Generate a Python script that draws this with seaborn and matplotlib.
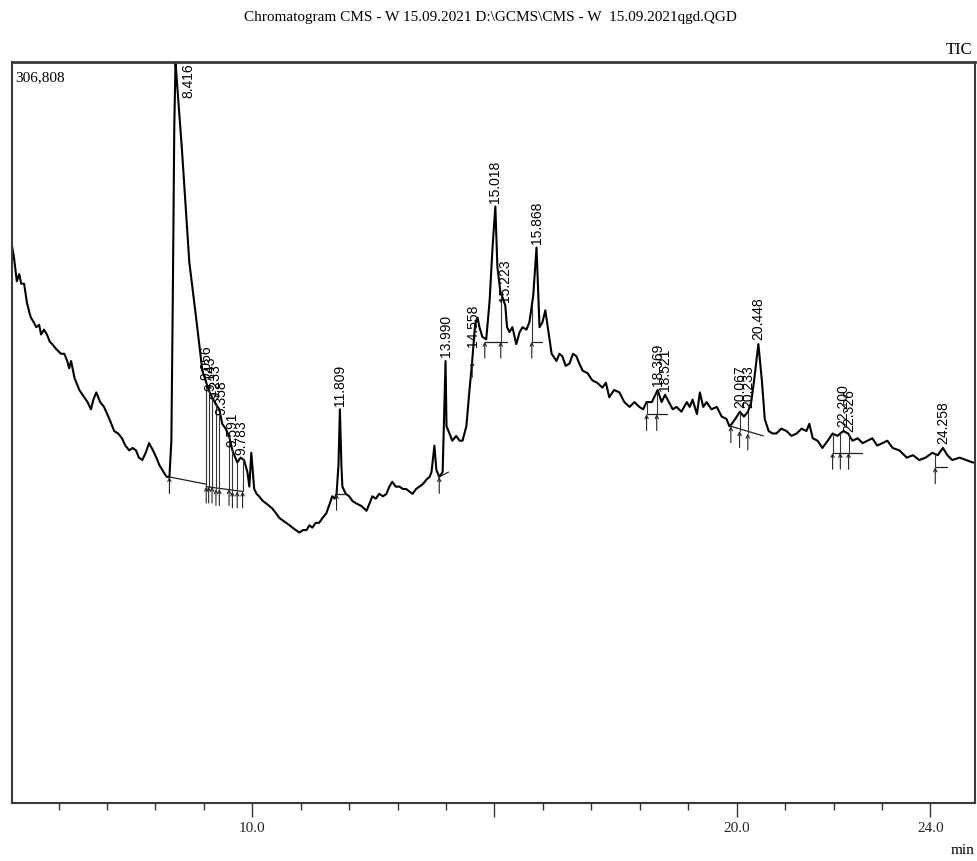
import numpy as np
import pandas as pd
import matplotlib
matplotlib.use("Agg")
import matplotlib.pyplot as plt
import seaborn as sns

# ---------------- data ----------------
rt_min = [
    5.02, 5.08, 5.14, 5.19, 5.23, 5.29, 5.35, 5.40, 5.43, 5.49, 5.54, 5.60, 5.64, 5.70, 5.76, 5.82,
    5.87, 5.95, 6.05, 6.12, 6.18, 6.22, 6.26, 6.33, 6.43, 6.53, 6.60, 6.67, 6.72, 6.78, 6.86, 6.94,
    7.05, 7.15, 7.23, 7.31, 7.38, 7.46, 7.53, 7.60, 7.66, 7.73, 7.80, 7.87, 7.95, 8.02, 8.08, 8.14,
    8.20, 8.24, 8.29, 8.33, 8.36, 8.39, 8.416, 8.44, 8.55, 8.70, 8.84, 8.97, 9.05, 9.10, 9.17, 9.25,
    9.32, 9.38, 9.45, 9.52, 9.59, 9.65, 9.69, 9.76, 9.83, 9.90, 9.94, 9.98, 10.04, 10.09, 10.14,
    10.22, 10.29, 10.35, 10.41, 10.49, 10.56, 10.63, 10.70, 10.77, 10.83, 10.90, 10.97, 11.05,
    11.12, 11.18, 11.24, 11.31, 11.38, 11.45, 11.53, 11.60, 11.65, 11.70, 11.74, 11.78, 11.809,
    11.84, 11.86, 11.93, 12.00, 12.07, 12.15, 12.25, 12.36, 12.42, 12.48, 12.55, 12.62, 12.70,
    12.77, 12.83, 12.89, 12.96, 13.04, 13.11, 13.18, 13.24, 13.31, 13.38, 13.45, 13.52, 13.60,
    13.66, 13.70, 13.76, 13.80, 13.86, 13.93, 13.99, 14.01, 14.07, 14.13, 14.21, 14.28, 14.34,
    14.42, 14.48, 14.54, 14.60, 14.65, 14.69, 14.75, 14.83, 14.90, 14.96, 15.018, 15.06, 15.12,
    15.223, 15.26, 15.31, 15.37, 15.45, 15.52, 15.58, 15.66, 15.72, 15.80, 15.868, 15.93, 15.99,
    16.05, 16.10, 16.18, 16.28, 16.34, 16.40, 16.47, 16.55, 16.62, 16.69, 16.75, 16.82, 16.92,
    17.02, 17.12, 17.23, 17.30, 17.37, 17.47, 17.58, 17.68, 17.79, 17.89, 17.99, 18.07, 18.14,
    18.25, 18.369, 18.45, 18.521, 18.60, 18.68, 18.76, 18.86, 18.97, 19.03, 19.09, 19.18, 19.24,
    19.31, 19.38, 19.48, 19.59, 19.69, 19.79, 19.85, 19.90, 19.97, 20.067, 20.15, 20.233, 20.30,
    20.36, 20.448, 20.52, 20.58, 20.66, 20.74, 20.82, 20.92, 21.03, 21.13, 21.24, 21.34, 21.44,
    21.50, 21.57, 21.67, 21.77, 21.88, 21.98, 22.08, 22.20, 22.30, 22.39, 22.50, 22.60, 22.70,
    22.80, 22.90, 23.01, 23.11, 23.22, 23.36, 23.51, 23.64, 23.77, 23.90, 24.04, 24.15, 24.258,
    24.35, 24.45, 24.60, 24.74, 24.87, 24.93]

tic_k = [
    233, 226, 216, 219, 215, 215, 207, 203, 201, 199, 197, 198, 194, 196, 194, 191,
    190, 188, 186, 186, 183, 180, 183, 176, 171, 168, 166, 163, 167, 170, 166, 164,
    159, 154, 153, 151, 148, 146, 147, 146, 143, 142, 145, 149, 146, 143, 140, 138,
    136, 135, 135, 150, 210, 280, 306.808, 300, 270, 224, 201, 179, 174, 171, 168, 165,
    163, 157, 155, 152, 146, 143, 141, 143, 142, 137, 131, 145, 130, 128, 127,
    125, 124, 123, 122, 120, 118, 117, 116, 115, 114, 113, 112, 113,
    113, 115, 114, 116, 116, 118, 120, 124, 127, 126, 128, 140, 163,
    140, 131, 128, 127, 125, 124, 123, 121, 124, 127, 126, 128, 127,
    128, 131, 133, 131, 131, 130, 130, 129, 128, 130, 131, 132, 134,
    135, 137, 148, 138, 135, 137, 183, 156, 153, 150, 152, 150, 150,
    156, 170, 183, 198, 201, 197, 193, 192, 208, 230, 247, 222, 212,
    206, 197, 195, 197, 190, 195, 197, 196, 199, 210, 230, 197, 199,
    204, 197, 186, 183, 186, 185, 181, 182, 186, 185, 182, 179, 178,
    175, 174, 172, 174, 168, 171, 170, 166, 164, 166, 164, 163, 166,
    166, 171, 166, 169, 166, 163, 164, 162, 166, 164, 167, 161, 170,
    164, 166, 163, 164, 160, 159, 156, 157, 159, 162, 160, 162, 166,
    175, 190, 175, 159, 154, 153, 153, 155, 154, 152, 153, 155, 154,
    157, 151, 150, 147, 150, 153, 152, 154, 153, 150, 151, 149, 150,
    151, 148, 149, 150, 147, 146, 143, 144, 142, 143, 145, 144, 147,
    144, 142, 143, 142, 141, 141]

peak_rt = [8.416, 9.056, 9.143, 9.233, 9.358, 9.591, 9.783, 11.809, 13.990, 14.558,
           15.018, 15.223, 15.868, 18.369, 18.521, 20.067, 20.233, 20.448,
           22.200, 22.326, 24.258]
peak_labels = ["8.416", "9.056", "9.143", "9.233", "9.358", "9.591", "9.783", "11.809",
               "13.990", "14.558", "15.018", "15.223", "15.868", "18.369", "18.521",
               "20.067", "20.233", "20.448", "22.200", "22.326", "24.258"]

# integration baselines (start time, start k, end time, end k)
base_t0 = [8.29, 9.05, 11.74, 13.86, 14.80, 15.77, 18.14, 19.88, 21.98, 24.10]
base_k0 = [135, 131, 128, 135, 191, 191, 161, 156, 145, 139]
base_t1 = [9.05, 9.80, 11.92, 14.05, 15.26, 15.98, 18.56, 20.55, 22.58, 24.35]
base_k1 = [132, 129, 128, 137, 191, 191, 161, 152, 145, 139]

# peak start / end arrows (time, k at arrow tip)
mark_t = [8.29, 9.05, 9.10, 9.17, 9.25, 9.32, 9.52, 9.59, 9.69, 9.80, 11.74, 13.86,
          14.54, 14.80, 15.13, 15.77, 18.14, 18.35, 19.88, 20.06, 20.23, 21.98, 22.14,
          22.31, 24.10]
mark_k = [135, 131, 131, 131, 130, 130, 130, 129, 129, 129, 128, 135,
          183, 191, 191, 191, 161, 161, 156, 154, 153, 145, 145,
          145, 139]

x_major = [10, 15, 20, 24]
x_major_labels = ["10.0", "", "20.0", "24.0"]
y_max = 306808

# ---------------- figure ----------------
sns.set_theme(style="white")
plt.rcParams["font.family"] = ["Liberation Serif", "DejaVu Serif"]

W, H = 977, 861
fig = plt.figure(figsize=(W / 100, H / 100), dpi=100)
ax = fig.add_axes([12 / W, 1 - 803 / H, (975 - 12) / W, (803 - 62) / H])

df = pd.DataFrame({"rt": rt_min, "tic": np.array(tic_k) * 1000.0})
sns.lineplot(data=df, x="rt", y="tic", color="black", lw=1.5, estimator=None,
             ax=ax, legend=False)

rt_arr = np.array(rt_min)
tic_arr = np.array(tic_k) * 1000.0
arrow_len = 6800

# baselines
for t0, k0, t1, k1 in zip(base_t0, base_k0, base_t1, base_k1):
    ax.plot([t0, t1], [k0 * 1000, k1 * 1000], color="#222222", lw=0.9)

# arrows + drop lines
for t, k in zip(mark_t, mark_k):
    top = k * 1000
    cur = np.interp(t, rt_arr, tic_arr)
    if cur > top + 2000:
        ax.plot([t, t], [top, cur], color="#333333", lw=0.8)
    ax.annotate("", xy=(t, top), xytext=(t, top - arrow_len),
                arrowprops=dict(arrowstyle="->", lw=0.8, color="#222222",
                                shrinkA=0, shrinkB=0, mutation_scale=6))

# peak labels
for t, lab in zip(peak_rt, peak_labels):
    if lab == "8.416":
        ax.text(t + 0.27, y_max - 500, lab, rotation=90, ha="center", va="top",
                fontsize=10, family=["Liberation Sans", "DejaVu Sans"], color="black")
        continue
    yv = np.interp(t, rt_arr, tic_arr) + 1500
    ax.text(t, yv, lab, rotation=90, ha="center", va="bottom", fontsize=10,
            family=["Liberation Sans", "DejaVu Sans"], color="black")

ax.set_xlim(5.04, 24.92)
ax.set_ylim(0, y_max)
ax.set_yticks([])
ax.set_xticks(x_major)
ax.set_xticklabels(x_major_labels)
ax.set_xticks(np.arange(6, 25, 1), minor=True)
ax.tick_params(axis="x", which="major", length=10, width=1.0, direction="out",
               color="#333333", labelsize=11, pad=4, bottom=True)
ax.tick_params(axis="x", which="minor", length=5, width=1.0, direction="out",
               color="#333333", bottom=True)
ax.set_xlabel("")
ax.set_ylabel("")
for s in ax.spines.values():
    s.set_visible(True)
    s.set_color("#3a3a3a")
    s.set_linewidth(1.5)
ax.spines["top"].set_linewidth(2.0)

ax.text(0.003, 0.987, "306,808", transform=ax.transAxes, ha="left", va="top",
        fontsize=11, color="black")
fig.text(0.5015, 1 - 18 / H, "Chromatogram CMS - W 15.09.2021 D:\\GCMS\\CMS - W  15.09.2021qgd.QGD",
         ha="center", va="center", fontsize=11, color="black")
fig.text(972 / W, 1 - 50 / H, "TIC", ha="right", va="center", fontsize=12, color="black")
fig.text(975 / W, 1 - 850 / H, "min", ha="right", va="center", fontsize=11, color="black")

fig.savefig("out.png", dpi=100, facecolor="white")
